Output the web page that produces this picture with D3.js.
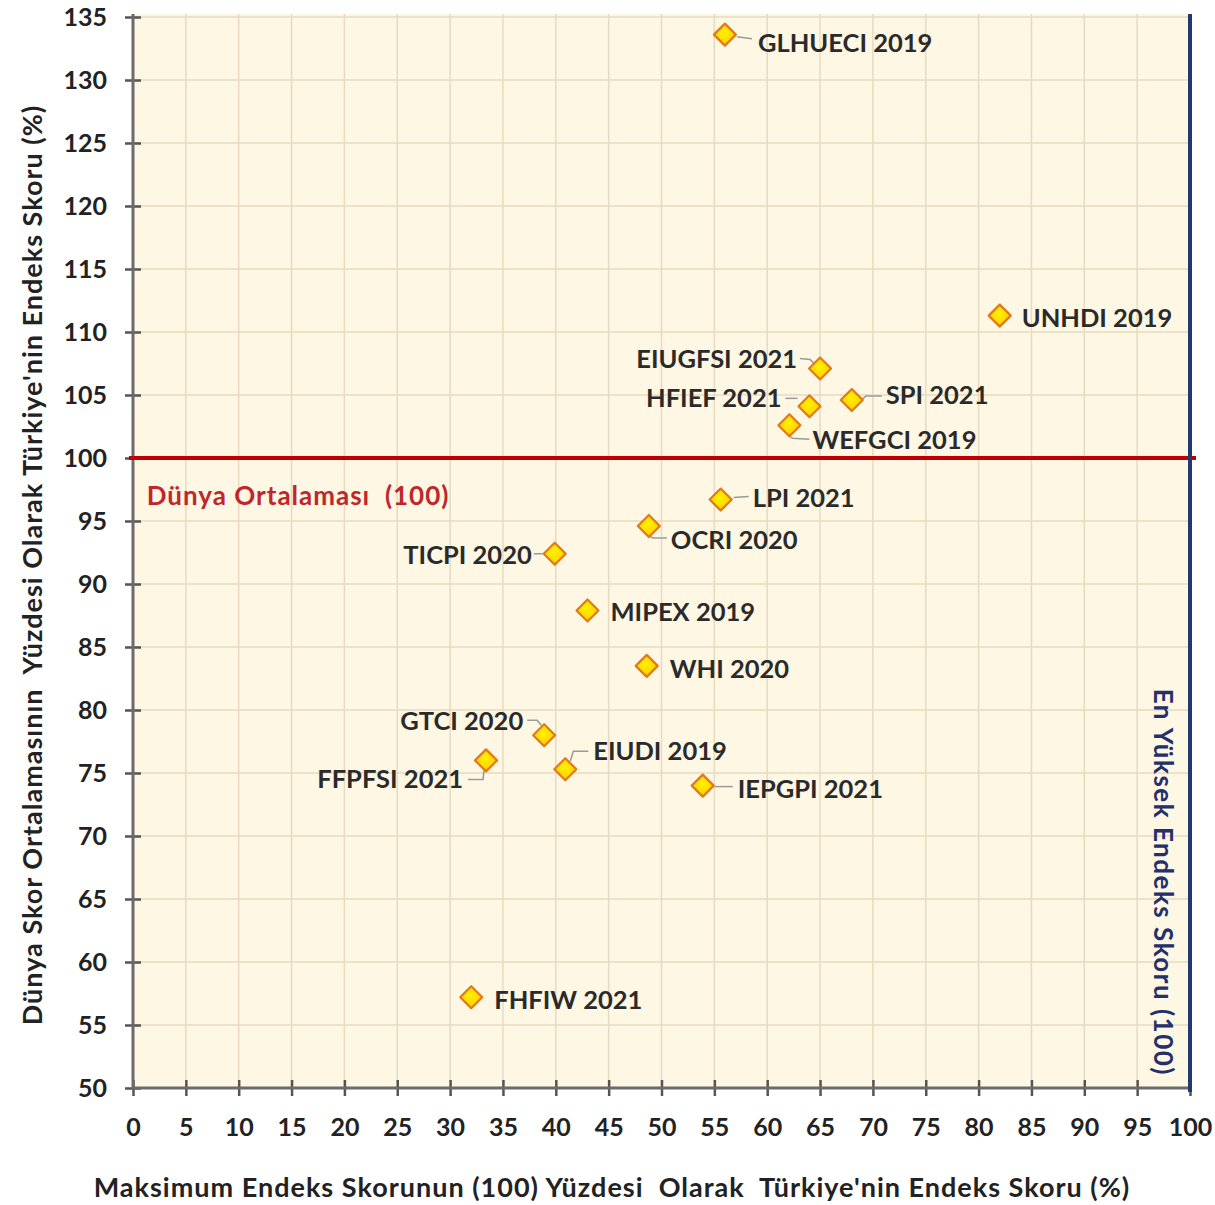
<!DOCTYPE html>
<html><head><meta charset="utf-8">
<script src="https://cdn.jsdelivr.net/npm/d3@7/dist/d3.min.js"></script>
<style>
body{margin:0;background:#fff;}
text{font-family:Lato,"Open Sans",sans-serif;font-weight:bold;}
</style></head>
<body>
<svg id="chart" width="1215" height="1205"></svg>
<script>
// ---- data ----
const names = ["GLHUECI 2019","UNHDI 2019","EIUGFSI 2021","SPI 2021","HFIEF 2021","WEFGCI 2019","LPI 2021","OCRI 2020","TICPI 2020","MIPEX 2019","WHI 2020","GTCI 2020","EIUDI 2019","FFPFSI 2021","IEPGPI 2021","FHFIW 2021"];
const xValues = [56, 82, 65, 68, 64, 62.1, 55.6, 48.8, 39.9, 43, 48.6, 38.9, 40.9, 33.4, 53.9, 32];
const yValues = [133.6, 111.3, 107.1, 104.6, 104.1, 102.6, 96.7, 94.6, 92.4, 87.9, 83.5, 78.0, 75.3, 76.0, 74.0, 57.2];
const xTicks = d3.range(0, 101, 5);
const yTicks = d3.range(50, 136, 5);
const worldAvg = 100;
const maxScore = 100;
const xTitle = "Maksimum Endeks Skorunun (100) Yüzdesi  Olarak  Türkiye'nin Endeks Skoru (%)";
const yTitle = "Dünya Skor Ortalamasının  Yüzdesi Olarak Türkiye'nin Endeks Skoru (%)";
const avgLabel = "Dünya Ortalaması  (100)";
const maxLabel = "En Yüksek Endeks Skoru (100)";

// ---- label layout (position config) ----
const labelLayout = {
  "GLHUECI 2019": {a:"start", dx:33, dy:8, l:[[12,2],[27,4]]},
  "UNHDI 2019":   {a:"start", dx:22, dy:2, l:null},
  "EIUGFSI 2021": {a:"end", dx:-23, dy:-9, l:[[-20,-10],[-10,-9],[-6,-5]]},
  "SPI 2021":     {a:"start", dx:34, dy:-5, l:[[11,-1],[14,-4],[30,-4]]},
  "HFIEF 2021":   {a:"end", dx:-28, dy:-8, l:[[-24,-8],[-12,-8]]},
  "WEFGCI 2019":  {a:"start", dx:23, dy:15, l:[[-2,9],[3,13],[20,14]]},
  "LPI 2021":     {a:"start", dx:32, dy:-2, l:[[13,-2],[28,-3]]},
  "OCRI 2020":    {a:"start", dx:22, dy:14, l:[[0,9],[4,12],[18,12]]},
  "TICPI 2020":   {a:"end", dx:-23, dy:1, l:[[-21,0],[-12,0]]},
  "MIPEX 2019":   {a:"start", dx:23, dy:2, l:null},
  "WHI 2020":     {a:"start", dx:23, dy:3, l:null},
  "GTCI 2020":    {a:"end", dx:-21, dy:-14, l:[[-17,-15],[-7,-15],[-3,-10]]},
  "EIUDI 2019":   {a:"start", dx:28, dy:-18, l:[[5,-8],[8,-18],[23,-18]]},
  "FFPFSI 2021":  {a:"end", dx:-23, dy:19, l:[[-18,19],[-3,19],[-2,10]]},
  "IEPGPI 2021":  {a:"start", dx:35, dy:3, l:[[12,1],[30,1]]},
  "FHFIW 2021":   {a:"start", dx:23, dy:3, l:null}
};

const svg = d3.select("#chart");
const L = 133, R = 1190, T = 17, B = 1088;
const x = d3.scaleLinear().domain([0,100]).range([L,R]);
const y = d3.scaleLinear().domain([50,135]).range([B,T]);

const defs = svg.append("defs");
const grad = defs.append("radialGradient").attr("id","mk").attr("cx","45%").attr("cy","40%").attr("r","60%");
grad.append("stop").attr("offset","0%").attr("stop-color","#FFF200");
grad.append("stop").attr("offset","70%").attr("stop-color","#FFD800");
grad.append("stop").attr("offset","100%").attr("stop-color","#F2B400");

// plot background
svg.append("rect").attr("x",L).attr("y",T-3).attr("width",R-L).attr("height",B-T+3).attr("fill","#FEF7E4");

// gridlines
const g = svg.append("g");
g.selectAll(".vg").data(xTicks.slice(1)).enter().append("line")
  .attr("x1",d=>x(d)).attr("x2",d=>x(d)).attr("y1",T-3).attr("y2",B)
  .attr("stroke","#E6DBC0").attr("stroke-width",1.5);
g.selectAll(".hg").data(yTicks.slice(1)).enter().append("line")
  .attr("x1",L).attr("x2",R).attr("y1",d=>y(d)).attr("y2",d=>y(d))
  .attr("stroke","#E6DBC0").attr("stroke-width",1.5);

// axes
const xAxis = d3.axisBottom(x).tickValues(xTicks).tickSize(0).tickPadding(0);
const yAxis = d3.axisLeft(y).tickValues(yTicks).tickSize(0).tickPadding(0);
const gx = svg.append("g").attr("transform",`translate(0,${B})`).call(xAxis);
const gy = svg.append("g").attr("transform",`translate(${L},0)`).call(yAxis);
[gx,gy].forEach(a=>{a.select(".domain").remove();});
gx.selectAll(".tick line").remove();
gy.selectAll(".tick line").remove();
gx.selectAll(".tick").append("line").attr("y1",-8).attr("y2",8).attr("stroke","#555").attr("stroke-width",2.5);
gy.selectAll(".tick").append("line").attr("x1",-8).attr("x2",8).attr("stroke","#555").attr("stroke-width",2.5);
gx.selectAll(".tick text").attr("y",39).attr("dy","0.35em").attr("font-size",25).attr("fill","#222")
  .attr("font-family","Lato").attr("font-weight","bold");
gy.selectAll(".tick text").attr("x",-26).attr("dy","0.35em").attr("font-size",25).attr("fill","#222")
  .attr("font-family","Lato").attr("font-weight","bold");

// axis lines
svg.append("line").attr("x1",L).attr("x2",L).attr("y1",T-3).attr("y2",B+1).attr("stroke","#6b6b6b").attr("stroke-width",3);
svg.append("line").attr("x1",L-1).attr("x2",R).attr("y1",B).attr("y2",B).attr("stroke","#6b6b6b").attr("stroke-width",3);

// reference lines
svg.append("line").attr("x1",L-4).attr("x2",R+6).attr("y1",y(worldAvg)).attr("y2",y(worldAvg))
  .attr("stroke","#C00000").attr("stroke-width",4);
svg.append("line").attr("x1",x(maxScore)).attr("x2",x(maxScore)).attr("y1",T-3).attr("y2",B+4)
  .attr("stroke","#1F3A73").attr("stroke-width",4);

svg.append("text").attr("x",x(1.3)).attr("y",y(worldAvg)+38).attr("dy","0.35em")
  .attr("font-size",26).attr("letter-spacing",1).style("white-space","pre")
  .attr("fill","#C0262C").text(avgLabel);
svg.append("text").attr("transform",`translate(${x(maxScore)-27},${y(50)-12}) rotate(90)`)
  .attr("text-anchor","end").attr("dy","0.35em")
  .attr("font-size",26).attr("letter-spacing",1.5).attr("fill","#24306B").text(maxLabel);

// titles
svg.append("text").attr("x",612).attr("y",1197).attr("text-anchor","middle")
  .attr("font-size",27).attr("letter-spacing",1).style("white-space","pre")
  .attr("fill","#222").text(xTitle);
svg.append("text").attr("transform",`translate(42,565) rotate(-90)`).attr("text-anchor","middle")
  .attr("font-size",27).attr("letter-spacing",1).style("white-space","pre")
  .attr("fill","#222").text(yTitle);

// points
const pts = names.map((n,i)=>({n, x:xValues[i], y:yValues[i]}));
const pg = svg.append("g");
pts.forEach(p=>{
  const cx = x(p.x), cy = y(p.y), lo = labelLayout[p.n];
  if (lo.l) {
    pg.append("polyline").attr("points", lo.l.map(q=>[cx+q[0],cy+q[1]].join(",")).join(" "))
      .attr("fill","none").attr("stroke","#9a9a9a").attr("stroke-width",1.5);
  }
});
pg.selectAll("path.mk").data(pts).enter().append("path").attr("class","mk")
  .attr("transform",d=>`translate(${x(d.x)},${y(d.y)})`)
  .attr("d","M0,-11L11,0L0,11L-11,0Z")
  .attr("fill","url(#mk)").attr("stroke","#E07A1A").attr("stroke-width",2.2).attr("stroke-linejoin","round");
pg.selectAll("text.lb").data(pts).enter().append("text").attr("class","lb")
  .attr("x",d=>x(d.x)+labelLayout[d.n].dx).attr("y",d=>y(d.y)+labelLayout[d.n].dy)
  .attr("dy","0.35em").attr("text-anchor",d=>labelLayout[d.n].a)
  .attr("font-size",25.5).attr("fill","#2a2a2a").text(d=>d.n);
</script>
</body></html>
